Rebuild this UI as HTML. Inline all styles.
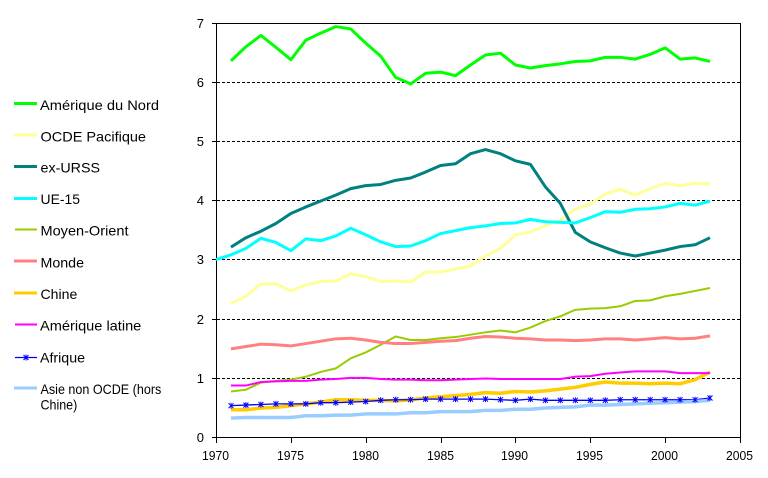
<!DOCTYPE html>
<html><head><meta charset="utf-8"><style>
html,body{margin:0;padding:0;background:#fff;}
svg{display:block;font-family:"Liberation Sans",Arial,sans-serif;font-size:13px;}
.s{fill:none;vector-effect:non-scaling-stroke;stroke-linejoin:round;stroke-linecap:butt;}
.lg text{font-size:14px;}
</style></head><body>
<svg width="768" height="478" viewBox="0 0 768 478" xmlns="http://www.w3.org/2000/svg">
<rect width="768" height="478" fill="#fff"/>
<!-- gridlines -->
<g stroke="#000" stroke-width="1" stroke-dasharray="3,2">
<line x1="217" y1="82.5" x2="740" y2="82.5"/>
<line x1="217" y1="141.5" x2="740" y2="141.5"/>
<line x1="217" y1="200.5" x2="740" y2="200.5"/>
<line x1="217" y1="259.5" x2="740" y2="259.5"/>
<line x1="217" y1="319.5" x2="740" y2="319.5"/>
<line x1="217" y1="378.5" x2="740" y2="378.5"/>
</g>
<!-- plot border -->
<rect x="216.5" y="23.5" width="524" height="414" fill="none" stroke="#000" stroke-width="1"/>
<!-- ticks -->
<g stroke="#000" stroke-width="1">
<line x1="212" y1="23.5" x2="216" y2="23.5"/>
<line x1="212" y1="82.5" x2="216" y2="82.5"/>
<line x1="212" y1="141.5" x2="216" y2="141.5"/>
<line x1="212" y1="200.5" x2="216" y2="200.5"/>
<line x1="212" y1="259.5" x2="216" y2="259.5"/>
<line x1="212" y1="319.5" x2="216" y2="319.5"/>
<line x1="212" y1="378.5" x2="216" y2="378.5"/>
<line x1="212" y1="437.5" x2="216" y2="437.5"/>
<line x1="216.5" y1="437" x2="216.5" y2="443"/>
<line x1="291.5" y1="437" x2="291.5" y2="443"/>
<line x1="366.5" y1="437" x2="366.5" y2="443"/>
<line x1="441.5" y1="437" x2="441.5" y2="443"/>
<line x1="515.5" y1="437" x2="515.5" y2="443"/>
<line x1="590.5" y1="437" x2="590.5" y2="443"/>
<line x1="665.5" y1="437" x2="665.5" y2="443"/>
<line x1="740.5" y1="437" x2="740.5" y2="443"/>
</g>
<!-- y labels -->
<g text-anchor="end" fill="#000">
<text x="204" y="28">7</text>
<text x="204" y="87">6</text>
<text x="204" y="146">5</text>
<text x="204" y="205">4</text>
<text x="204" y="264">3</text>
<text x="204" y="324">2</text>
<text x="204" y="383">1</text>
<text x="204" y="442">0</text>
</g>
<!-- x labels -->
<g fill="#000">
<text x="202" y="460" textLength="27" lengthAdjust="spacingAndGlyphs">1970</text>
<text x="277" y="460" textLength="27" lengthAdjust="spacingAndGlyphs">1975</text>
<text x="352" y="460" textLength="27" lengthAdjust="spacingAndGlyphs">1980</text>
<text x="427" y="460" textLength="27" lengthAdjust="spacingAndGlyphs">1985</text>
<text x="501" y="460" textLength="27" lengthAdjust="spacingAndGlyphs">1990</text>
<text x="576" y="460" textLength="27" lengthAdjust="spacingAndGlyphs">1995</text>
<text x="651" y="460" textLength="27" lengthAdjust="spacingAndGlyphs">2000</text>
<text x="726" y="460" textLength="27" lengthAdjust="spacingAndGlyphs">2005</text>
</g>
<!-- series -->
<g transform="translate(216,437) scale(14.971,-59.14)">
<polyline class="s" stroke="#00FF00" stroke-width="3" points="1,6.36 2,6.60 3,6.79 4,6.59 5,6.38 6,6.71 7,6.83 8,6.94 9,6.90 10,6.66 11,6.44 12,6.08 13,5.97 14,6.15 15,6.17 16,6.11 17,6.29 18,6.46 19,6.49 20,6.29 21,6.24 22,6.28 23,6.31 24,6.35 25,6.36 26,6.42 27,6.42 28,6.39 29,6.47 30,6.58 31,6.39 32,6.41 33,6.35"/>
<polyline class="s" stroke="#FFFF99" stroke-width="3" points="1,2.26 2,2.38 3,2.59 4,2.59 5,2.47 6,2.57 7,2.63 8,2.64 9,2.76 10,2.71 11,2.63 12,2.64 13,2.62 14,2.79 15,2.79 16,2.84 17,2.89 18,3.06 19,3.19 20,3.42 21,3.47 22,3.57 23,3.67 24,3.85 25,3.94 26,4.11 27,4.19 28,4.09 29,4.20 30,4.29 31,4.25 32,4.29 33,4.28"/>
<polyline class="s" stroke="#008080" stroke-width="3" points="1,3.21 2,3.37 3,3.48 4,3.61 5,3.78 6,3.89 7,3.99 8,4.09 9,4.20 10,4.25 11,4.27 12,4.34 13,4.38 14,4.48 15,4.59 16,4.62 17,4.79 18,4.86 19,4.79 20,4.67 21,4.61 22,4.23 23,3.95 24,3.46 25,3.30 26,3.20 27,3.11 28,3.06 29,3.11 30,3.16 31,3.22 32,3.25 33,3.37"/>
<polyline class="s" stroke="#00FFFF" stroke-width="3" points="0,3.00 1,3.08 2,3.19 3,3.36 4,3.29 5,3.15 6,3.35 7,3.32 8,3.40 9,3.53 10,3.42 11,3.30 12,3.22 13,3.23 14,3.32 15,3.44 16,3.49 17,3.54 18,3.57 19,3.61 20,3.62 21,3.68 22,3.64 23,3.63 24,3.62 25,3.71 26,3.81 27,3.80 28,3.85 29,3.86 30,3.89 31,3.95 32,3.92 33,3.99"/>
<polyline class="s" stroke="#99CC00" stroke-width="2" points="1,0.77 2,0.80 3,0.92 4,0.95 5,0.97 6,1.02 7,1.10 8,1.16 9,1.33 10,1.43 11,1.56 12,1.70 13,1.64 14,1.64 15,1.67 16,1.69 17,1.73 18,1.77 19,1.80 20,1.77 21,1.85 22,1.96 23,2.04 24,2.15 25,2.17 26,2.18 27,2.21 28,2.30 29,2.31 30,2.38 31,2.42 32,2.47 33,2.52"/>
<polyline class="s" stroke="#FF8080" stroke-width="3" points="1,1.49 2,1.53 3,1.57 4,1.56 5,1.54 6,1.58 7,1.62 8,1.66 9,1.67 10,1.64 11,1.60 12,1.58 13,1.58 14,1.60 15,1.62 16,1.63 17,1.67 18,1.70 19,1.69 20,1.67 21,1.66 22,1.64 23,1.64 24,1.63 25,1.64 26,1.66 27,1.66 28,1.64 29,1.66 30,1.68 31,1.66 32,1.67 33,1.71"/>
<polyline class="s" stroke="#FFCC00" stroke-width="3.5" points="1,0.46 2,0.46 3,0.49 4,0.50 5,0.53 6,0.56 7,0.59 8,0.63 9,0.63 10,0.62 11,0.62 12,0.61 13,0.63 14,0.66 15,0.68 16,0.70 17,0.72 18,0.75 19,0.74 20,0.77 21,0.76 22,0.78 23,0.81 24,0.84 25,0.89 26,0.93 27,0.91 28,0.91 29,0.90 30,0.91 31,0.90 32,0.97 33,1.10"/>
<polyline class="s" stroke="#FF00FF" stroke-width="2" points="1,0.87 2,0.87 3,0.93 4,0.94 5,0.95 6,0.95 7,0.97 8,0.98 9,1.00 10,1.00 11,0.98 12,0.97 13,0.97 14,0.96 15,0.96 16,0.97 17,0.98 18,0.99 19,0.98 20,0.98 21,0.98 22,0.98 23,0.98 24,1.02 25,1.03 26,1.07 27,1.09 28,1.11 29,1.11 30,1.11 31,1.08 32,1.08 33,1.08"/>
<polyline class="s" stroke="#0000FF" stroke-width="1.3" points="1,0.53 2,0.54 3,0.55 4,0.56 5,0.56 6,0.56 7,0.58 8,0.58 9,0.59 10,0.60 11,0.62 12,0.63 13,0.63 14,0.64 15,0.64 16,0.64 17,0.64 18,0.64 19,0.63 20,0.62 21,0.64 22,0.62 23,0.62 24,0.62 25,0.62 26,0.62 27,0.63 28,0.63 29,0.63 30,0.63 31,0.63 32,0.63 33,0.66"/>
<polyline class="s" stroke="#99CCFF" stroke-width="3.5" points="1,0.32 2,0.33 3,0.33 4,0.33 5,0.33 6,0.36 7,0.36 8,0.37 9,0.37 10,0.39 11,0.39 12,0.39 13,0.41 14,0.41 15,0.43 16,0.43 17,0.43 18,0.45 19,0.45 20,0.47 21,0.47 22,0.49 23,0.50 24,0.51 25,0.54 26,0.54 27,0.55 28,0.56 29,0.57 30,0.58 31,0.59 32,0.60 33,0.62"/>
</g>
<!-- Afrique markers -->
<defs><path id="st" d="M-2.5,-2.5L2.5,2.5M-2.5,2.5L2.5,-2.5M0,-3V3" stroke="#0000FF" stroke-width="1" fill="none"/></defs>
<g>
<use href="#st" x="231" y="405.7"/><use href="#st" x="245.9" y="405.1"/><use href="#st" x="260.9" y="404.5"/><use href="#st" x="275.9" y="403.9"/><use href="#st" x="290.9" y="403.9"/><use href="#st" x="305.8" y="403.9"/><use href="#st" x="320.8" y="402.7"/><use href="#st" x="335.8" y="402.7"/><use href="#st" x="350.7" y="402.1"/><use href="#st" x="365.7" y="401.5"/><use href="#st" x="380.7" y="400.3"/><use href="#st" x="395.7" y="399.7"/><use href="#st" x="410.6" y="399.7"/><use href="#st" x="425.6" y="399.1"/><use href="#st" x="440.6" y="399.1"/><use href="#st" x="455.5" y="399.1"/><use href="#st" x="470.5" y="399.1"/><use href="#st" x="485.5" y="399.1"/><use href="#st" x="500.5" y="399.7"/><use href="#st" x="515.4" y="400.3"/><use href="#st" x="530.4" y="399.1"/><use href="#st" x="545.4" y="400.3"/><use href="#st" x="560.3" y="400.3"/><use href="#st" x="575.3" y="400.3"/><use href="#st" x="590.3" y="400.3"/><use href="#st" x="605.3" y="400.3"/><use href="#st" x="620.2" y="399.7"/><use href="#st" x="635.2" y="399.7"/><use href="#st" x="650.2" y="399.7"/><use href="#st" x="665.1" y="399.7"/><use href="#st" x="680.1" y="399.7"/><use href="#st" x="695.1" y="399.7"/><use href="#st" x="710" y="398"/>
</g>
<!-- legend -->
<g stroke-width="3">
<line x1="14" y1="103.5" x2="37" y2="103.5" stroke="#00FF00"/>
<line x1="14" y1="135" x2="37" y2="135" stroke="#FFFF99"/>
<line x1="14" y1="166.5" x2="37" y2="166.5" stroke="#008080"/>
<line x1="14" y1="198.5" x2="37" y2="198.5" stroke="#00FFFF"/>
<line x1="15" y1="229.5" x2="37" y2="229.5" stroke="#99CC00" stroke-width="2"/>
<line x1="14" y1="261" x2="37" y2="261" stroke="#FF8080"/>
<line x1="14" y1="293" x2="37" y2="293" stroke="#FFCC00"/>
<line x1="15" y1="324.5" x2="37" y2="324.5" stroke="#FF00FF" stroke-width="2"/>
<line x1="15" y1="357.5" x2="37" y2="357.5" stroke="#0000FF" stroke-width="1.3"/>
<line x1="14" y1="388" x2="37" y2="388" stroke="#99CCFF"/>
</g>
<use href="#st" x="26" y="357.5"/>
<g class="lg" fill="#000">
<text x="40" y="110" textLength="119" lengthAdjust="spacingAndGlyphs">Amérique du Nord</text>
<text x="40.5" y="141.5" textLength="105.5" lengthAdjust="spacingAndGlyphs">OCDE Pacifique</text>
<text x="40.5" y="172.5" textLength="59.5" lengthAdjust="spacingAndGlyphs">ex-URSS</text>
<text x="40.5" y="204" textLength="39.5" lengthAdjust="spacingAndGlyphs">UE-15</text>
<text x="40.5" y="235.5" textLength="88" lengthAdjust="spacingAndGlyphs">Moyen-Orient</text>
<text x="40.5" y="267.5" textLength="43.5" lengthAdjust="spacingAndGlyphs">Monde</text>
<text x="40.5" y="299" textLength="36.8" lengthAdjust="spacingAndGlyphs">Chine</text>
<text x="40" y="330.5" textLength="101.3" lengthAdjust="spacingAndGlyphs">Amérique latine</text>
<text x="40" y="362.5" textLength="45" lengthAdjust="spacingAndGlyphs">Afrique</text>
<text x="40.5" y="394" textLength="120.8" lengthAdjust="spacingAndGlyphs">Asie non OCDE (hors</text>
<text x="40.5" y="409.5" textLength="36.8" lengthAdjust="spacingAndGlyphs">Chine)</text>
</g>
</svg>
</body></html>
